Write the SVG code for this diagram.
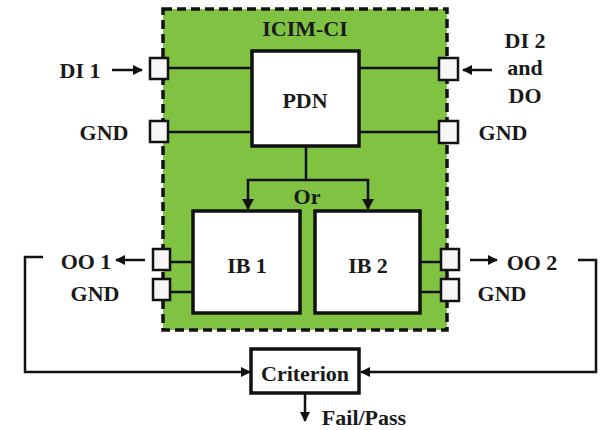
<svg xmlns="http://www.w3.org/2000/svg" width="603" height="430" viewBox="0 0 603 430">
<defs>
<marker id="ah" viewBox="0 0 10 10" refX="9" refY="5" markerWidth="4" markerHeight="4" orient="auto" markerUnits="strokeWidth">
<path d="M0,0 L10,5 L0,10 z" fill="#111"/>
</marker>
<style>
text{font-family:'Liberation Serif','DejaVu Serif',serif;font-weight:bold;font-size:22px;fill:#1a1a1a;text-anchor:middle;dominant-baseline:central}
.box{fill:#fff;stroke:#111;stroke-width:3.5}
.port{fill:#f6f6f6;stroke:#111;stroke-width:2.5}
.ln{fill:none;stroke:#111;stroke-width:2.5}
.ar{fill:none;stroke:#111;stroke-width:2.5;marker-end:url(#ah)}
</style>
</defs>
<rect width="603" height="430" fill="#fff"/>
<g id="icim-ci">
<rect x="163" y="9" width="284" height="321" fill="#80c342" stroke="#111" stroke-width="3.5" stroke-dasharray="9,5"/>
<text x="305" y="28" font-size="23">ICIM-CI</text>
</g>
<g id="connectors">
<line class="ln" x1="168" y1="68" x2="252" y2="68"/>
<line class="ln" x1="168" y1="132" x2="252" y2="132"/>
<line class="ln" x1="359" y1="68" x2="438" y2="68"/>
<line class="ln" x1="359" y1="132" x2="438" y2="132"/>
<line class="ln" x1="306" y1="146" x2="306" y2="180"/>
<polyline class="ln" points="248,209 248,180 368,180 368,209"/>
<path d="M242,199 L254,199 L248,210 z" fill="#111"/>
<path d="M362,199 L374,199 L368,210 z" fill="#111"/>
<line class="ln" x1="170" y1="262" x2="193" y2="262"/>
<line class="ln" x1="170" y1="292" x2="193" y2="292"/>
<line class="ln" x1="420" y1="262" x2="440" y2="262"/>
<line class="ln" x1="420" y1="292" x2="440" y2="292"/>
<line class="ar" x1="112" y1="70" x2="142" y2="70"/>
<line class="ar" x1="492" y1="70" x2="463" y2="70"/>
<line class="ar" x1="145" y1="260" x2="116" y2="260"/>
<line class="ar" x1="470" y1="260" x2="497" y2="260"/>
<polyline class="ar" points="43,257 25,257 25,372 250,372"/>
<polyline class="ar" points="578,260 596,260 596,372 361,372"/>
<line class="ar" x1="305" y1="393" x2="305" y2="421"/>
</g>
<g id="pdn">
<rect class="box" x="252" y="51" width="107" height="95"/>
<text x="305" y="100">PDN</text>
</g>
<text x="307" y="196">Or</text>
<g id="ib1">
<rect class="box" x="193" y="211" width="107" height="102"/>
<text x="247" y="265">IB 1</text>
</g>
<g id="ib2">
<rect class="box" x="315" y="211" width="105" height="102"/>
<text x="368" y="265">IB 2</text>
</g>
<g id="ports">
<rect class="port" x="150" y="58" width="18" height="21"/>
<rect class="port" x="150" y="121" width="18" height="21"/>
<rect class="port" x="439" y="58" width="19" height="22"/>
<rect class="port" x="439" y="121" width="19" height="22"/>
<rect class="port" x="153" y="249" width="17" height="21"/>
<rect class="port" x="153" y="279" width="17" height="21"/>
<rect class="port" x="441" y="249" width="18" height="21"/>
<rect class="port" x="441" y="279" width="18" height="22"/>
</g>
<g id="labels">
<text x="80" y="70">DI 1</text>
<text x="104" y="132">GND</text>
<text x="525" y="40">DI 2</text>
<text x="525" y="67">and</text>
<text x="525" y="95">DO</text>
<text x="503" y="132">GND</text>
<text x="86" y="261">OO 1</text>
<text x="95" y="293">GND</text>
<text x="532" y="262">OO 2</text>
<text x="502" y="293">GND</text>
</g>
<g id="criterion">
<rect class="box" x="251" y="349" width="108" height="44"/>
<text x="305" y="373">Criterion</text>
</g>
<text x="364" y="417">Fail/Pass</text>
</svg>
